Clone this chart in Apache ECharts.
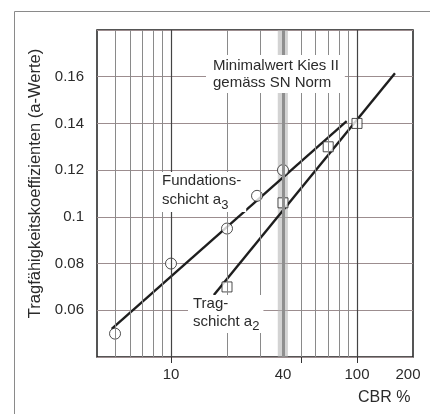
<!DOCTYPE html>
<html>
<head>
<meta charset="utf-8">
<script src="https://cdn.jsdelivr.net/npm/echarts@6/dist/echarts.min.js"></script>
<style>
  html, body { margin: 0; padding: 0; background: #fff; }
  #chart { width: 430px; height: 414px; }
</style>
</head>
<body>
<div id="chart"></div>
<script>
// Fundationsschicht a3 (Kreise)
var fundCbr = [5, 10, 20, 29, 40];
var fundA = [0.050, 0.080, 0.095, 0.109, 0.120];
// Tragschicht a2 (Quadrate)
var tragCbr = [20, 40, 70, 100];
var tragA = [0.070, 0.106, 0.130, 0.140];
// Ausgleichsgeraden (Endpunkte)
var fundLinieCbr = [4.8, 88];
var fundLinieA = [0.052, 0.141];
var tragLinieCbr = [17, 160];
var tragLinieA = [0.0665, 0.1615];
// Achsen
var xLabels = [10, 40, 100, 200];
var xTicks = [10, 50, 100];
var gitterNeben = [5, 6, 7, 8, 9, 20, 30, 50, 60, 70, 80, 90];
var gitterHaupt = [10, 100];
var minimalBand = [37.5, 42.5];
var minimalWert = 40;

function paare(xs, ys) {
    return xs.map(function (x, i) { return [x, ys[i]]; });
}

var textColor = '#2b2b2b';
var myChart = echarts.init(document.getElementById('chart'));

option = {
    animation: false,
    grid: {
        left: 97,
        top: 30,
        right: 17,
        bottom: 57,
        show: true,
        borderColor: '#1e1e1e',
        borderWidth: 1.5
    },
    xAxis: {
        type: 'log',
        logBase: 10,
        min: 4,
        max: 200,
        axisLine: { show: false },
        splitLine: { show: false },
        axisTick: {
            show: true,
            customValues: xTicks,
            length: 6,
            inside: false,
            lineStyle: { color: '#333', width: 1 }
        },
        axisLabel: {
            customValues: xLabels,
            color: textColor,
            fontFamily: 'Liberation Sans',
            fontSize: 15,
            margin: 10,
            formatter: function (v) {
                return v === 200 ? '{r|200}' : String(v);
            },
            rich: {
                r: { fontFamily: 'Liberation Sans', fontSize: 15, color: textColor, padding: [0, 10, 0, 0] }
            }
        }
    },
    yAxis: {
        type: 'value',
        min: 0.04,
        max: 0.18,
        interval: 0.02,
        name: 'Tragfähigkeitskoeffizienten (a-Werte)',
        nameLocation: 'middle',
        nameGap: 41,
        nameTextStyle: {
            color: textColor,
            fontFamily: 'Liberation Sans',
            fontSize: 16.5,
            padding: [0, 0, 0, 20]
        },
        axisLine: { show: false },
        axisTick: { show: false },
        splitLine: { show: true, lineStyle: { color: '#9c8d8f', width: 1 } },
        axisLabel: {
            showMinLabel: false,
            showMaxLabel: false,
            color: textColor,
            fontFamily: 'Liberation Sans',
            fontSize: 15,
            margin: 13
        }
    },
    series: [
        {
            name: 'gitter',
            type: 'line',
            data: [],
            silent: true,
            markLine: {
                silent: true,
                symbol: 'none',
                label: { show: false },
                lineStyle: { color: '#8a8a8a', width: 1, type: 'solid' },
                data: gitterNeben.map(function (v) { return { xAxis: v }; })
                    .concat(gitterHaupt.map(function (v) {
                        return { xAxis: v, lineStyle: { color: '#444', width: 1.2 } };
                    }))
            },
            markArea: {
                silent: true,
                itemStyle: { color: 'rgba(175,175,175,0.55)' },
                data: [[{ xAxis: minimalBand[0] }, { xAxis: minimalBand[1] }]]
            }
        },
        {
            name: 'minimal',
            type: 'line',
            data: [],
            silent: true,
            markLine: {
                silent: true,
                symbol: 'none',
                label: { show: false },
                lineStyle: { color: '#8f8f8f', width: 3, type: 'solid' },
                data: [{ xAxis: minimalWert }]
            }
        },
        {
            name: 'Fundationsschicht Gerade',
            type: 'line',
            data: paare(fundLinieCbr, fundLinieA),
            symbol: 'none',
            lineStyle: { color: '#1e1e1e', width: 2.4 },
            z: 3
        },
        {
            name: 'Tragschicht Gerade',
            type: 'line',
            data: paare(tragLinieCbr, tragLinieA),
            symbol: 'none',
            lineStyle: { color: '#1e1e1e', width: 2.4 },
            z: 3
        },
        {
            name: 'Fundationsschicht a3',
            type: 'scatter',
            data: paare(fundCbr, fundA),
            symbol: 'circle',
            symbolSize: 11,
            itemStyle: { color: '#fff', borderColor: '#222', borderWidth: 1 },
            z: 4
        },
        {
            name: 'Tragschicht a2',
            type: 'scatter',
            data: paare(tragCbr, tragA),
            symbol: 'rect',
            symbolSize: 10,
            itemStyle: { color: '#fff', borderColor: '#222', borderWidth: 1 },
            z: 4
        }
    ],
    graphic: [
        {
            type: 'rect',
            shape: { x: 14.5, y: 11.5, width: 600, height: 600 },
            style: { fill: 'none', stroke: '#8a8a8a', lineWidth: 1 },
            silent: true,
            z: 0
        },
        {
            type: 'text',
            left: 206,
            top: 55,
            z: 10,
            style: {
                text: 'Minimalwert Kies II\ngemäss SN Norm',
                fill: textColor,
                font: '15px "Liberation Sans"',
                lineHeight: 17,
                backgroundColor: '#fff',
                padding: [2, 6, 2, 7]
            }
        },
        {
            type: 'text',
            left: 156,
            top: 172,
            z: 10,
            style: {
                text: '{n|Fundations-}\n{n|schicht a}{s|3}',
                fill: textColor,
                backgroundColor: '#fff',
                padding: [1, 5, 0, 6],
                rich: {
                    n: { font: '15px "Liberation Sans"', lineHeight: 19, verticalAlign: 'top', fill: textColor },
                    s: { font: '13px "Liberation Sans"', lineHeight: 20, verticalAlign: 'bottom', fill: textColor }
                }
            }
        },
        {
            type: 'text',
            left: 188,
            top: 295,
            z: 10,
            style: {
                text: '{n|Trag-}\n{n|schicht a}{s|2}',
                fill: textColor,
                backgroundColor: '#fff',
                padding: [1, 4, 0, 5],
                rich: {
                    n: { font: '15px "Liberation Sans"', lineHeight: 18, verticalAlign: 'top', fill: textColor },
                    s: { font: '13px "Liberation Sans"', lineHeight: 19, verticalAlign: 'bottom', fill: textColor }
                }
            }
        },
        {
            type: 'text',
            left: 358,
            top: 390,
            z: 10,
            style: {
                text: 'CBR %',
                fill: textColor,
                font: '16px "Liberation Sans"'
            }
        }
    ]
};
myChart.setOption(option);
</script>
</body>
</html>
